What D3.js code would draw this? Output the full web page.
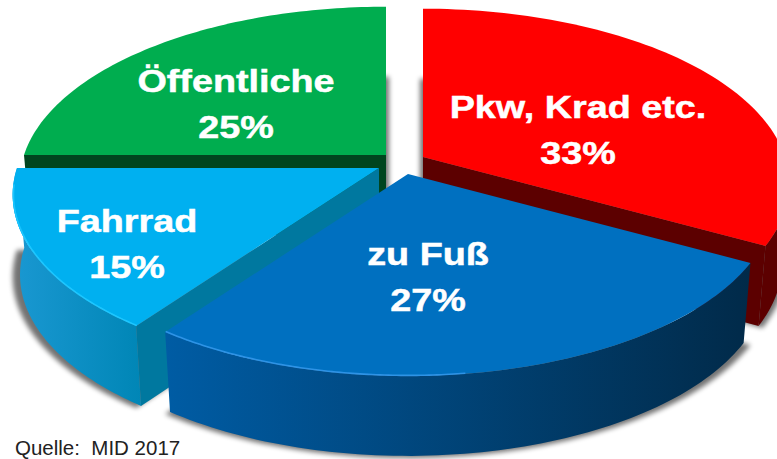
<!DOCTYPE html>
<html><head><meta charset="utf-8">
<script src="https://cdn.jsdelivr.net/npm/d3@7"></script>
<style>html,body{margin:0;padding:0;background:#fff;overflow:hidden}svg{display:block}</style>
</head><body><div id="chart"></div>
<script>
const categories = ["Pkw, Krad etc.", "zu Fuß", "Fahrrad", "Öffentliche"];
const shares = [33, 27, 15, 25];
const source = "Quelle:  MID 2017";

const W = 777, H = 459;
const topColors = ["#FF0000", "#0070C0", "#00B0F0", "#00AD4F"];
const sideColors = ["#5C0000", null, "#00789F", "#00451F"];
const wallStops = [["#5C0000","#5C0000"], ["#005CA4","#012A49"], ["#1A98D2","#0086B6"], ["#00451F","#00451F"]];
const rimColors = [null, "#2E93E6", "#1CC6FF", null];
const apex = [[423,157],[408,174],[379,168],[386,155]];
const shadowShift = [-3, 0, 0, 3];
const labelAt = [[578,118,164],[428,265,311],[127,232,278],[236,92,138]];
const drawOrder = [3,0,2,1];

const R = 362, S = 171, K = 0.153, DEPTH = 80, SHRINK = 0.98, WIDEN = 1.18;
const xs = d3.scaleLinear().domain([-1,1]).range([-R,R]);
const ys = d3.scaleLinear().domain([-1,1]).range([-S,S]);

function project(i, a, r, low, noShrink) {
  const X = r*Math.sin(a), Y = -r*Math.cos(a), w = 1 - K*Y, f = (low && !noShrink) ? SHRINK : 1;
  return [apex[i][0] + f*xs(X)/w, apex[i][1] + ys(Y)/w + (low ? DEPTH : 0)];
}
const line = d3.line();
const sampled = (a0, a1) => d3.range(0, 81).map(t => a0 + (a1-a0)*t/80);

const arcs = d3.pie().sort(null).startAngle(0).endAngle(2*Math.PI)(shares);

const svg = d3.select("#chart").append("svg").attr("width",W).attr("height",H).attr("viewBox",`0 0 ${W} ${H}`);
const defs = svg.append("defs");
defs.append("filter").attr("id","soft").attr("x","-10%").attr("y","-10%").attr("width","120%").attr("height","120%")
  .append("feGaussianBlur").attr("stdDeviation",2.4);
defs.append("filter").attr("id","rimBlur").attr("x","-5%").attr("y","-20%").attr("width","110%").attr("height","140%")
  .append("feGaussianBlur").attr("stdDeviation",0.7);

function face(i, d, low) {
  const pts = sampled(d.startAngle, d.endAngle).map(a => project(i,a,1,low));
  pts.unshift(project(i,0,0,low));
  return line(pts) + "Z";
}

drawOrder.forEach(i => {
  const d = arcs[i], g = svg.append("g");
  // soft shadow under the slice
  const shadowPts = sampled(d.startAngle, d.endAngle).map(a => {
    const p = project(i,a,1,true,true);
    return [p[0] + shadowShift[i], p[1] + 2 - 12*Math.max(0, Math.cos(a))];
  });
  shadowPts.unshift([apex[i][0] + shadowShift[i], apex[i][1]+DEPTH]);
  g.append("path").attr("d", line(shadowPts)+"Z")
    .attr("fill","#000").attr("opacity",0.55).attr("filter","url(#soft)");

  // straight cut walls facing the viewer
  if (sideColors[i]) {
    const edge = i === 0 ? d.endAngle : d.startAngle;
    const q = [project(i,0,0,false), project(i,edge,1,false), project(i,edge,1,true), project(i,0,0,true)];
    g.append("path").attr("d", line(q)+"Z").attr("fill", sideColors[i]);
  }

  // curved outer wall, only the near half of the circle
  const a0 = Math.max(d.startAngle, Math.PI/2), a1 = Math.min(d.endAngle, 1.5*Math.PI);
  if (a1 > a0) {
    const top = sampled(a0,a1).map(a => project(i,a,1,false));
    const bot = sampled(a0,a1).map(a => project(i,a,1,true));
    const gid = "wall"+i;
    const xExt = d3.extent(top.concat(bot), p => p[0]);
    const grad = defs.append("linearGradient").attr("id",gid).attr("gradientUnits","userSpaceOnUse")
      .attr("x1",xExt[0]).attr("x2",xExt[1]).attr("y1",0).attr("y2",0);
    grad.append("stop").attr("offset","0").attr("stop-color",wallStops[i][0]);
    grad.append("stop").attr("offset","1").attr("stop-color",wallStops[i][1]);
    g.append("path").attr("d", line(top.concat(bot.reverse()))+"Z").attr("fill",`url(#${gid})`);
  }

  // top face
  g.append("path").attr("d", face(i,d,false)).attr("fill", topColors[i]);

  // light rim on the near edge
  if (rimColors[i]) {
    const span = d.endAngle - d.startAngle;
    const from = i === 1 ? d.startAngle + span*0.55 : d.startAngle;
    const to = i === 1 ? d.endAngle : d.startAngle + span*0.9;
    const rim = sampled(from, to).map(a => project(i,a,0.998,false));
    g.append("path").attr("d", line(rim)).attr("fill","none").attr("stroke",rimColors[i])
      .attr("stroke-width",1.6).attr("filter","url(#rimBlur)");
  }
});

const labels = svg.append("g").attr("font-family","'Liberation Sans',Arial,sans-serif")
  .attr("font-weight","bold").attr("font-size",32).attr("fill","#fff")
  .attr("stroke","#fff").attr("stroke-width",0.5).attr("text-anchor","middle");
categories.forEach((c,i) => {
  const [x,y1,y2] = labelAt[i];
  [[y1,c],[y2,shares[i]+"%"]].forEach(([y,s]) => {
    labels.append("text").attr("transform",`translate(${x},${y}) scale(${WIDEN},1)`).text(s);
  });
});
svg.append("text").attr("x",15).attr("y",454.5).attr("font-family","'Liberation Sans',Arial,sans-serif")
  .attr("font-size",20.5).attr("fill","#222").style("white-space","pre").text(source);
</script></body></html>
